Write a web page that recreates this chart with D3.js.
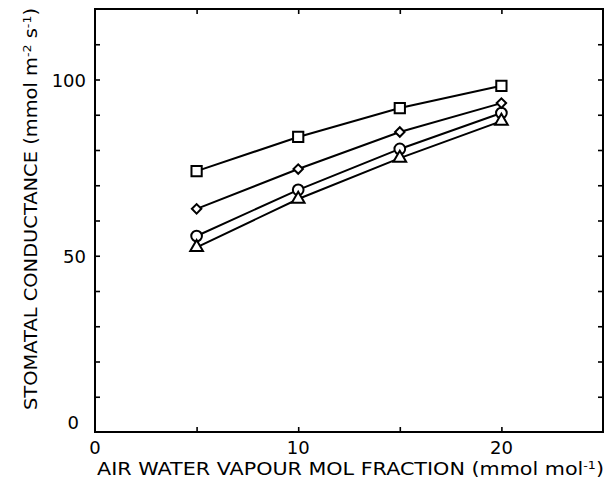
<!DOCTYPE html>
<html><head><meta charset="utf-8">
<script src="https://cdn.jsdelivr.net/npm/d3@7"></script>
<style>body{margin:0;background:#fff}svg{display:block}</style>
</head><body>
<script>
const xValues = [5, 10, 15, 20];
const squareSeries = [74, 83.7, 91.9, 98.2];
const diamondSeries = [63.3, 74.6, 85.1, 93.3];
const circleSeries = [55.6, 68.7, 80.3, 90.5];
const triangleSeries = [52.4, 66.1, 77.7, 88.2];
const xTickLabels = [0, 10, 20];
const yTickLabels = [0, 50, 100];
const xMinorTicks = [5, 10, 15, 20];
const yMinorTicks = [10, 20, 30, 40, 50, 60, 70, 80, 90, 100, 110];

const W = 610, H = 483;
const m = {left: 95, right: 603, top: 9, bottom: 432};
const svg = d3.select("body").append("svg").attr("width", W).attr("height", H);
const x = d3.scaleLinear().domain([0, 25]).range([m.left, m.right]);
const y = d3.scaleLinear().domain([0, 120]).range([m.bottom, m.top]);
const font = "'DejaVu Sans', sans-serif";

// ticks on all sides (inward)
const tl = 5;
svg.append("g").attr("transform", `translate(0,${m.bottom})`)
  .call(d3.axisBottom(x).tickValues(xMinorTicks).tickSize(-tl).tickFormat(""))
  .call(g => g.select(".domain").remove());
svg.append("g").attr("transform", `translate(0,${m.top})`)
  .call(d3.axisTop(x).tickValues(xMinorTicks).tickSize(-tl).tickFormat(""))
  .call(g => g.select(".domain").remove());
svg.append("g").attr("transform", `translate(${m.left},0)`)
  .call(d3.axisLeft(y).tickValues(yMinorTicks).tickSize(-tl).tickFormat(""))
  .call(g => g.select(".domain").remove());
svg.append("g").attr("transform", `translate(${m.right},0)`)
  .call(d3.axisRight(y).tickValues(yMinorTicks).tickSize(-tl).tickFormat(""))
  .call(g => g.select(".domain").remove());
svg.selectAll(".tick line").attr("stroke", "#000").attr("stroke-width", 1.6);

// frame
svg.append("rect").attr("x", m.left).attr("y", m.top)
  .attr("width", m.right - m.left).attr("height", m.bottom - m.top)
  .attr("fill", "none").attr("stroke", "#000").attr("stroke-width", 2);

// tick labels
svg.append("g").selectAll("text").data(xTickLabels).join("text")
  .attr("x", d => x(d)).attr("y", m.bottom + 22)
  .attr("text-anchor", "middle").attr("font-family", font).attr("font-size", 18)
  .text(d => d);
svg.append("g").selectAll("text").data(yTickLabels).join("text")
  .attr("x", d => d === 0 ? m.left - 16 : m.left - 9)
  .attr("y", d => d === 0 ? y(d) - 3 : y(d) + 7)
  .attr("text-anchor", "end").attr("font-family", font).attr("font-size", 18)
  .text(d => d);

// axis titles
const xt = svg.append("text").attr("x", 97).attr("y", 475)
  .attr("font-family", font).attr("font-size", 18)
  .attr("textLength", 507).attr("lengthAdjust", "spacingAndGlyphs");
xt.append("tspan").text("AIR WATER VAPOUR MOL FRACTION (mmol mol");
xt.append("tspan").attr("dy", -6).attr("font-size", 11).text("-1");
xt.append("tspan").attr("dy", 6).text(")");

const yt = svg.append("text").attr("transform", "translate(37,410) rotate(-90)")
  .attr("font-family", font).attr("font-size", 17)
  .attr("textLength", 402).attr("lengthAdjust", "spacingAndGlyphs");
yt.append("tspan").text("STOMATAL CONDUCTANCE (mmol m");
yt.append("tspan").attr("dy", -6).attr("font-size", 11).text("-2");
yt.append("tspan").attr("dy", 6).text(" s");
yt.append("tspan").attr("dy", -6).attr("font-size", 11).text("-1");
yt.append("tspan").attr("dy", 6).text(")");

// series
const series = [
  {vals: triangleSeries, shape: "triangle"},
  {vals: circleSeries, shape: "circle"},
  {vals: diamondSeries, shape: "diamond"},
  {vals: squareSeries, shape: "square"}
];
const line = d3.line().x((d, i) => x(xValues[i])).y(d => y(d));
series.forEach(s => {
  svg.append("path").datum(s.vals).attr("d", line)
    .attr("fill", "none").attr("stroke", "#000").attr("stroke-width", 2);
});
const symbols = {
  square: {gen: d3.symbol().type(d3.symbolSquare).size(105), rot: 0},
  diamond: {gen: d3.symbol().type(d3.symbolSquare).size(45), rot: 45},
  circle: {gen: d3.symbol().type(d3.symbolCircle).size(90), rot: 0},
  triangle: {gen: d3.symbol().type(d3.symbolTriangle).size(70), rot: 0}
};
["circle", "triangle", "diamond", "square"].forEach(shape => {
  const s = series.find(t => t.shape === shape);
  const sym = symbols[shape];
  svg.append("g").selectAll("path").data(s.vals).join("path")
    .attr("transform", (d, i) => `translate(${x(xValues[i])},${y(d)}) rotate(${sym.rot})`)
    .attr("d", sym.gen)
    .attr("fill", "#fff").attr("stroke", "#000").attr("stroke-width", 2);
});
</script>
</body></html>
